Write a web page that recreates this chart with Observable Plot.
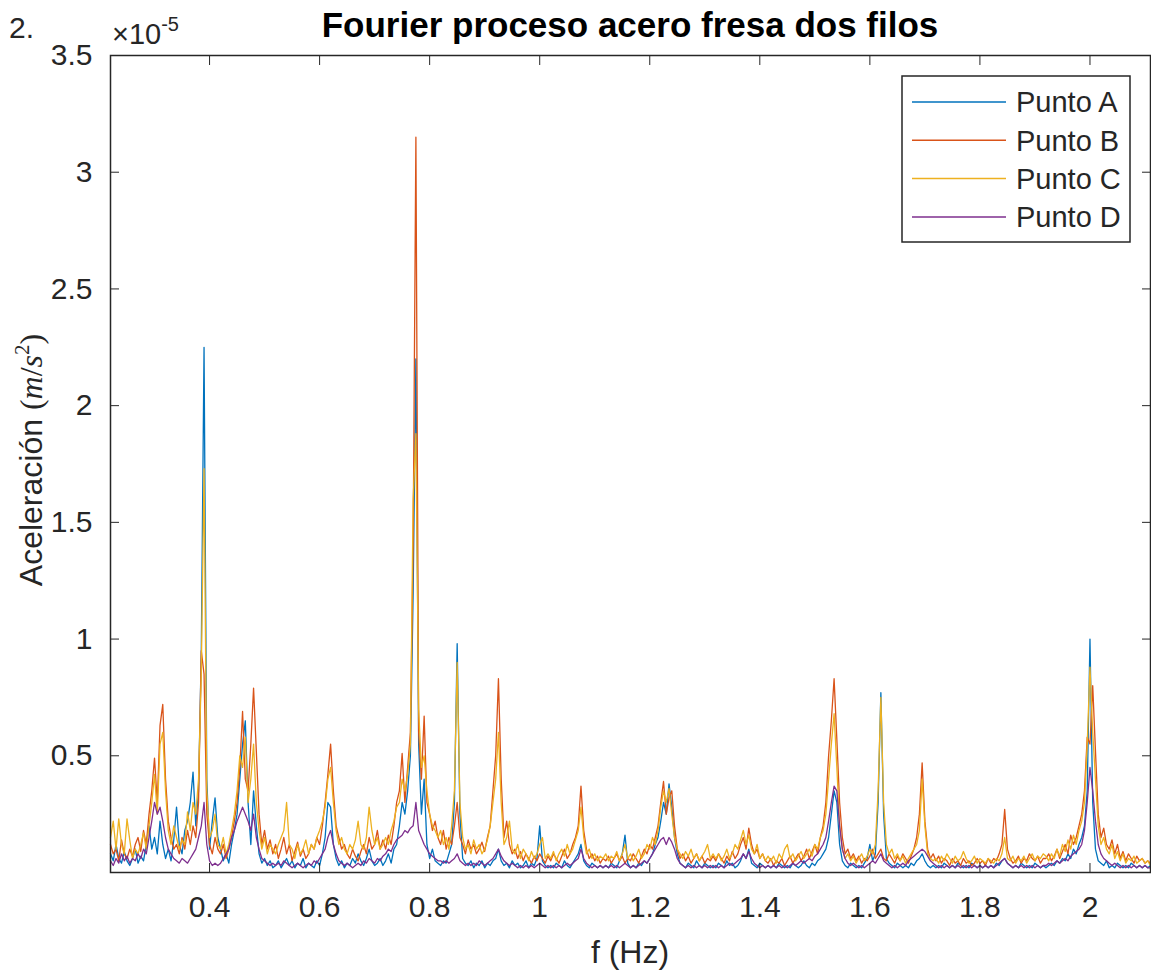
<!DOCTYPE html>
<html><head><meta charset="utf-8">
<script src="https://cdn.jsdelivr.net/npm/d3@7"></script>
<script src="https://cdn.jsdelivr.net/npm/@observablehq/plot@0.6"></script>
<style>body{margin:0;background:#fff}</style>
</head><body><div id="chart"></div>
<script>
const seriesNames = ["Punto A","Punto B","Punto C","Punto D"];
const seriesColors = ["#0072BD","#D95319","#EDB120","#7E2F8E"];
const xTicks = [0.4,0.6,0.8,1,1.2,1.4,1.6,1.8,2];
const yTicks = [0.5,1,1.5,2,2.5,3,3.5];
const titleText = "Fourier proceso acero fresa dos filos";
const xLabel = "f (Hz)";
const panelTag = "2.";

// frequency bins (Hz)
const freq = [
.22,.225,.23,.235,.24,.245,.25,.255,.26,.265,.27,.275,.28,.285,.29,.295,.3,.305,.31,.315,
.32,.325,.33,.335,.34,.345,.35,.355,.36,.365,.37,.375,.38,.385,.39,.395,.4,.405,.41,.415,
.42,.425,.43,.435,.44,.445,.45,.455,.46,.465,.47,.475,.48,.485,.49,.495,.5,.505,.51,.515,
.52,.525,.53,.535,.54,.545,.55,.555,.56,.565,.57,.575,.58,.585,.59,.595,.6,.605,.61,.615,
.62,.625,.63,.635,.64,.645,.65,.655,.66,.665,.67,.675,.68,.685,.69,.695,.7,.705,.71,.715,
.72,.725,.73,.735,.74,.745,.75,.755,.76,.765,.77,.775,.78,.785,.79,.795,.8,.805,.81,.815,
.82,.825,.83,.835,.84,.845,.85,.855,.86,.865,.87,.875,.88,.885,.89,.895,.9,.905,.91,.915,
.92,.925,.93,.935,.94,.945,.95,.955,.96,.965,.97,.975,.98,.985,.99,.995,1,1.005,1.01,1.015,
1.02,1.025,1.03,1.035,1.04,1.045,1.05,1.055,1.06,1.065,1.07,1.075,1.08,1.085,1.09,1.095,1.1,1.105,1.11,1.115,
1.12,1.125,1.13,1.135,1.14,1.145,1.15,1.155,1.16,1.165,1.17,1.175,1.18,1.185,1.19,1.195,1.2,1.205,1.21,1.215,
1.22,1.225,1.23,1.235,1.24,1.245,1.25,1.255,1.26,1.265,1.27,1.275,1.28,1.285,1.29,1.295,1.3,1.305,1.31,1.315,
1.32,1.325,1.33,1.335,1.34,1.345,1.35,1.355,1.36,1.365,1.37,1.375,1.38,1.385,1.39,1.395,1.4,1.405,1.41,1.415,
1.42,1.425,1.43,1.435,1.44,1.445,1.45,1.455,1.46,1.465,1.47,1.475,1.48,1.485,1.49,1.495,1.5,1.505,1.51,1.515,
1.52,1.525,1.53,1.535,1.54,1.545,1.55,1.555,1.56,1.565,1.57,1.575,1.58,1.585,1.59,1.595,1.6,1.605,1.61,1.615,
1.62,1.625,1.63,1.635,1.64,1.645,1.65,1.655,1.66,1.665,1.67,1.675,1.68,1.685,1.69,1.695,1.7,1.705,1.71,1.715,
1.72,1.725,1.73,1.735,1.74,1.745,1.75,1.755,1.76,1.765,1.77,1.775,1.78,1.785,1.79,1.795,1.8,1.805,1.81,1.815,
1.82,1.825,1.83,1.835,1.84,1.845,1.85,1.855,1.86,1.865,1.87,1.875,1.88,1.885,1.89,1.895,1.9,1.905,1.91,1.915,
1.92,1.925,1.93,1.935,1.94,1.945,1.95,1.955,1.96,1.965,1.97,1.975,1.98,1.985,1.99,1.995,2,2.005,2.01,2.015,
2.02,2.025,2.03,2.035,2.04,2.045,2.05,2.055,2.06,2.065,2.07,2.075,2.08,2.085,2.09,2.095,2.1,2.105,2.11
];

// acceleration amplitude, units of 1e-5 m/s^2
const puntoA = [
0.08,0.05,0.12,0.06,0.04,0.09,0.05,0.03,0.06,0.10,0.04,0.07,0.05,0.12,0.20,0.10,0.15,0.08,0.22,0.12,
0.06,0.10,0.05,0.14,0.28,0.12,0.08,0.18,0.22,0.30,0.43,0.20,0.35,0.95,2.25,0.40,0.10,0.22,0.32,0.15,
0.10,0.05,0.08,0.04,0.12,0.18,0.25,0.40,0.55,0.65,0.30,0.12,0.35,0.20,0.08,0.04,0.06,0.03,0.05,0.02,
0.03,0.05,0.02,0.04,0.06,0.03,0.05,0.02,0.04,0.03,0.06,0.02,0.04,0.03,0.02,0.05,0.03,0.08,0.15,0.30,
0.28,0.12,0.06,0.03,0.05,0.02,0.04,0.03,0.06,0.04,0.08,0.05,0.03,0.06,0.10,0.05,0.03,0.04,0.06,0.03,
0.05,0.08,0.04,0.10,0.12,0.20,0.30,0.25,0.35,0.50,1.20,2.20,0.55,0.25,0.40,0.12,0.06,0.10,0.05,0.04,
0.03,0.05,0.04,0.08,0.12,0.30,0.98,0.25,0.06,0.04,0.03,0.05,0.02,0.04,0.03,0.05,0.02,0.04,0.03,0.05,
0.06,0.10,0.05,0.03,0.04,0.02,0.05,0.03,0.04,0.02,0.03,0.05,0.02,0.04,0.03,0.06,0.20,0.05,0.03,0.02,
0.03,0.02,0.04,0.03,0.02,0.05,0.03,0.02,0.04,0.06,0.08,0.12,0.05,0.03,0.02,0.04,0.03,0.02,0.03,0.02,
0.03,0.02,0.04,0.03,0.02,0.05,0.08,0.16,0.04,0.02,0.03,0.02,0.04,0.03,0.05,0.04,0.06,0.08,0.12,0.15,
0.22,0.30,0.25,0.38,0.28,0.15,0.08,0.04,0.03,0.02,0.04,0.03,0.02,0.05,0.03,0.02,0.04,0.03,0.02,0.03,
0.02,0.04,0.03,0.02,0.05,0.03,0.04,0.02,0.03,0.05,0.08,0.06,0.10,0.04,0.03,0.02,0.04,0.03,0.02,0.03,
0.02,0.03,0.02,0.04,0.03,0.02,0.03,0.02,0.04,0.03,0.02,0.03,0.05,0.03,0.02,0.04,0.03,0.05,0.06,0.08,
0.10,0.15,0.25,0.35,0.30,0.12,0.05,0.03,0.02,0.04,0.03,0.02,0.03,0.02,0.04,0.06,0.12,0.05,0.08,0.30,
0.77,0.25,0.06,0.04,0.03,0.02,0.04,0.03,0.02,0.03,0.02,0.04,0.03,0.05,0.06,0.08,0.05,0.03,0.02,0.03,
0.02,0.03,0.02,0.04,0.03,0.02,0.03,0.02,0.04,0.03,0.02,0.03,0.02,0.04,0.03,0.02,0.03,0.02,0.03,0.02,
0.03,0.02,0.04,0.03,0.05,0.06,0.04,0.03,0.02,0.03,0.02,0.04,0.03,0.02,0.03,0.02,0.04,0.03,0.02,0.03,
0.02,0.03,0.04,0.03,0.05,0.04,0.06,0.05,0.08,0.06,0.10,0.08,0.12,0.15,0.20,0.35,1.00,0.30,0.10,0.05,
0.04,0.03,0.05,0.02,0.03,0.02,0.04,0.03,0.02,0.03,0.02,0.04,0.03,0.02,0.03,0.02,0.03,0.02,0.03
];
const puntoB = [
0.12,0.08,0.10,0.05,0.14,0.08,0.06,0.10,0.07,0.12,0.15,0.09,0.18,0.12,0.25,0.35,0.49,0.30,0.63,0.72,
0.40,0.22,0.15,0.10,0.12,0.08,0.15,0.10,0.18,0.12,0.20,0.15,0.30,0.95,0.85,0.25,0.12,0.08,0.15,0.10,
0.08,0.12,0.06,0.10,0.15,0.22,0.30,0.45,0.69,0.40,0.35,0.55,0.79,0.52,0.25,0.12,0.18,0.10,0.14,0.08,
0.12,0.06,0.10,0.15,0.08,0.12,0.05,0.09,0.13,0.07,0.10,0.06,0.08,0.12,0.10,0.15,0.12,0.20,0.30,0.42,
0.55,0.35,0.20,0.15,0.10,0.12,0.08,0.06,0.10,0.07,0.05,0.09,0.12,0.08,0.15,0.10,0.12,0.18,0.10,0.14,
0.10,0.16,0.12,0.20,0.30,0.35,0.51,0.30,0.45,0.60,1.40,3.15,0.60,0.40,0.67,0.30,0.25,0.18,0.22,0.15,
0.12,0.18,0.10,0.15,0.12,0.20,0.30,0.15,0.12,0.08,0.14,0.10,0.12,0.08,0.10,0.13,0.09,0.15,0.20,0.35,
0.50,0.83,0.40,0.15,0.22,0.12,0.08,0.10,0.06,0.09,0.05,0.08,0.06,0.04,0.07,0.05,0.08,0.06,0.04,0.07,
0.05,0.08,0.06,0.04,0.07,0.10,0.06,0.08,0.12,0.15,0.20,0.37,0.18,0.10,0.06,0.08,0.05,0.07,0.04,0.06,
0.05,0.07,0.04,0.06,0.08,0.05,0.07,0.04,0.06,0.05,0.08,0.06,0.04,0.07,0.10,0.08,0.12,0.10,0.15,0.20,
0.30,0.39,0.25,0.32,0.35,0.20,0.10,0.06,0.08,0.05,0.07,0.04,0.06,0.08,0.05,0.07,0.04,0.06,0.05,0.07,
0.05,0.08,0.06,0.04,0.07,0.05,0.09,0.06,0.08,0.12,0.15,0.10,0.19,0.12,0.08,0.10,0.06,0.08,0.05,0.04,
0.06,0.03,0.05,0.04,0.06,0.03,0.05,0.07,0.04,0.06,0.08,0.05,0.07,0.10,0.06,0.09,0.12,0.08,0.15,0.20,
0.30,0.50,0.65,0.83,0.57,0.30,0.15,0.08,0.10,0.06,0.08,0.05,0.07,0.04,0.06,0.05,0.07,0.10,0.06,0.08,
0.10,0.06,0.05,0.08,0.06,0.04,0.07,0.05,0.08,0.06,0.04,0.07,0.10,0.15,0.25,0.47,0.22,0.10,0.06,0.08,
0.05,0.07,0.04,0.06,0.05,0.03,0.06,0.04,0.05,0.03,0.06,0.04,0.05,0.03,0.04,0.06,0.04,0.05,0.03,0.06,
0.04,0.06,0.05,0.08,0.12,0.27,0.10,0.06,0.04,0.05,0.07,0.04,0.06,0.05,0.08,0.06,0.05,0.07,0.04,0.06,
0.06,0.08,0.05,0.07,0.10,0.06,0.09,0.12,0.08,0.16,0.12,0.15,0.20,0.25,0.35,0.58,0.55,0.80,0.52,0.25,
0.15,0.19,0.12,0.10,0.14,0.08,0.12,0.06,0.09,0.05,0.08,0.06,0.04,0.07,0.05,0.06,0.04,0.05,0.04
];
const puntoC = [
0.15,0.22,0.10,0.23,0.12,0.08,0.23,0.14,0.06,0.10,0.08,0.12,0.17,0.10,0.20,0.30,0.42,0.25,0.55,0.60,
0.35,0.18,0.12,0.20,0.15,0.10,0.14,0.12,0.26,0.18,0.30,0.25,0.40,0.85,1.73,0.35,0.15,0.18,0.25,0.12,
0.10,0.15,0.08,0.12,0.18,0.25,0.35,0.50,0.45,0.58,0.30,0.40,0.55,0.30,0.18,0.10,0.15,0.08,0.12,0.10,
0.08,0.12,0.15,0.18,0.30,0.12,0.10,0.06,0.12,0.08,0.10,0.14,0.08,0.12,0.10,0.15,0.18,0.22,0.28,0.40,
0.45,0.30,0.18,0.12,0.15,0.10,0.08,0.12,0.10,0.14,0.22,0.12,0.10,0.15,0.28,0.18,0.12,0.15,0.10,0.12,
0.15,0.12,0.18,0.22,0.28,0.30,0.40,0.35,0.42,0.55,1.60,1.88,0.70,0.45,0.50,0.35,0.25,0.20,0.18,0.15,
0.18,0.12,0.15,0.10,0.20,0.35,0.90,0.30,0.15,0.10,0.12,0.08,0.14,0.10,0.12,0.08,0.10,0.14,0.20,0.30,
0.40,0.60,0.30,0.12,0.15,0.22,0.10,0.08,0.12,0.06,0.10,0.08,0.05,0.09,0.06,0.08,0.12,0.15,0.06,0.08,
0.06,0.09,0.05,0.08,0.10,0.07,0.12,0.08,0.10,0.14,0.18,0.28,0.15,0.08,0.10,0.06,0.08,0.05,0.07,0.06,
0.08,0.05,0.07,0.06,0.09,0.05,0.08,0.12,0.06,0.08,0.05,0.07,0.10,0.06,0.08,0.12,0.10,0.15,0.12,0.18,
0.28,0.35,0.30,0.36,0.25,0.15,0.10,0.08,0.06,0.09,0.07,0.10,0.06,0.08,0.05,0.07,0.09,0.12,0.06,0.08,
0.06,0.08,0.05,0.07,0.10,0.06,0.08,0.12,0.10,0.14,0.18,0.12,0.16,0.10,0.08,0.12,0.06,0.08,0.05,0.07,
0.05,0.07,0.04,0.08,0.06,0.10,0.12,0.06,0.08,0.05,0.07,0.09,0.06,0.08,0.10,0.07,0.12,0.10,0.15,0.18,
0.25,0.40,0.55,0.68,0.45,0.20,0.10,0.06,0.08,0.05,0.07,0.04,0.06,0.08,0.05,0.07,0.10,0.08,0.12,0.35,
0.75,0.30,0.12,0.08,0.10,0.06,0.08,0.05,0.07,0.04,0.06,0.08,0.10,0.12,0.18,0.40,0.20,0.08,0.06,0.05,
0.06,0.04,0.07,0.05,0.08,0.06,0.04,0.07,0.05,0.06,0.09,0.06,0.04,0.05,0.07,0.04,0.06,0.05,0.04,0.06,
0.05,0.04,0.06,0.05,0.08,0.15,0.06,0.05,0.07,0.04,0.06,0.05,0.07,0.04,0.06,0.08,0.05,0.07,0.06,0.08,
0.07,0.05,0.08,0.06,0.10,0.07,0.12,0.09,0.14,0.10,0.16,0.12,0.18,0.22,0.30,0.55,0.88,0.60,0.40,0.20,
0.12,0.15,0.10,0.08,0.12,0.06,0.09,0.05,0.08,0.04,0.06,0.05,0.07,0.04,0.05,0.06,0.04,0.05,0.03
];
const puntoD = [
0.05,0.03,0.06,0.04,0.08,0.05,0.07,0.04,0.06,0.05,0.08,0.06,0.10,0.08,0.15,0.22,0.30,0.25,0.28,0.22,
0.15,0.10,0.08,0.06,0.05,0.04,0.06,0.05,0.04,0.06,0.08,0.10,0.15,0.20,0.30,0.12,0.05,0.03,0.04,0.03,
0.04,0.06,0.08,0.10,0.15,0.18,0.22,0.25,0.28,0.25,0.22,0.18,0.25,0.15,0.10,0.06,0.05,0.04,0.03,0.04,
0.03,0.04,0.03,0.05,0.04,0.03,0.02,0.03,0.04,0.03,0.02,0.03,0.04,0.03,0.05,0.04,0.06,0.08,0.10,0.15,
0.18,0.12,0.08,0.05,0.04,0.03,0.04,0.03,0.02,0.03,0.04,0.03,0.05,0.04,0.06,0.05,0.04,0.06,0.05,0.07,
0.08,0.10,0.09,0.12,0.14,0.15,0.16,0.18,0.17,0.19,0.20,0.30,0.18,0.15,0.12,0.10,0.08,0.07,0.06,0.05,
0.05,0.04,0.05,0.04,0.05,0.06,0.08,0.05,0.04,0.03,0.04,0.03,0.04,0.03,0.05,0.04,0.03,0.04,0.05,0.06,
0.08,0.10,0.07,0.05,0.04,0.03,0.04,0.03,0.02,0.03,0.02,0.03,0.02,0.03,0.02,0.03,0.04,0.03,0.02,0.03,
0.02,0.03,0.02,0.03,0.02,0.03,0.04,0.03,0.04,0.05,0.06,0.10,0.06,0.04,0.03,0.02,0.03,0.02,0.03,0.02,
0.03,0.02,0.03,0.02,0.03,0.02,0.03,0.04,0.03,0.02,0.03,0.02,0.03,0.04,0.05,0.04,0.06,0.08,0.10,0.12,
0.14,0.15,0.12,0.15,0.13,0.10,0.06,0.04,0.03,0.02,0.03,0.02,0.03,0.02,0.03,0.02,0.03,0.02,0.03,0.02,
0.03,0.02,0.03,0.02,0.03,0.04,0.03,0.04,0.05,0.06,0.08,0.06,0.09,0.06,0.04,0.03,0.02,0.03,0.02,0.03,
0.02,0.03,0.02,0.03,0.02,0.03,0.02,0.03,0.04,0.03,0.04,0.05,0.04,0.05,0.06,0.05,0.07,0.08,0.10,0.12,
0.15,0.22,0.30,0.37,0.35,0.20,0.10,0.06,0.04,0.03,0.04,0.03,0.02,0.03,0.02,0.03,0.04,0.05,0.04,0.06,
0.08,0.05,0.04,0.03,0.02,0.03,0.02,0.03,0.04,0.03,0.05,0.06,0.07,0.08,0.09,0.10,0.09,0.07,0.05,0.04,
0.03,0.02,0.03,0.02,0.03,0.02,0.03,0.02,0.03,0.02,0.03,0.02,0.03,0.02,0.03,0.02,0.03,0.02,0.03,0.02,
0.03,0.02,0.03,0.04,0.05,0.06,0.04,0.03,0.02,0.03,0.02,0.03,0.02,0.03,0.02,0.03,0.02,0.03,0.02,0.03,
0.03,0.04,0.03,0.04,0.05,0.04,0.05,0.06,0.05,0.07,0.08,0.09,0.10,0.12,0.18,0.30,0.45,0.35,0.22,0.12,
0.08,0.06,0.05,0.04,0.03,0.04,0.03,0.02,0.03,0.02,0.03,0.02,0.03,0.02,0.03,0.02,0.03,0.02,0.02
];

const seriesValues = [puntoA, puntoB, puntoC, puntoD];
const table = [];
seriesValues.forEach((vals, k) => vals.forEach((v, i) => table.push({f: freq[i], v, s: seriesNames[k]})));

const ink = "#262626";
const W = 1151, H = 973;
const svg = Plot.plot({
  width: W, height: H,
  marginLeft: 110, marginRight: 1, marginTop: 55, marginBottom: 101,
  style: {fontFamily: "'Liberation Sans', Arial, sans-serif", fontSize: "30px", color: ink, background: "#fff", overflow: "visible"},
  x: {domain: [0.22, 2.11]},
  y: {domain: [0, 3.5]},
  color: {domain: seriesNames, range: seriesColors},
  marks: [
    Plot.line(table, {x: "f", y: "v", z: "s", stroke: "s", strokeWidth: 1.3}),
    Plot.frame({stroke: ink, strokeWidth: 1.5}),
    Plot.axisX({anchor: "bottom", ticks: xTicks, tickSize: -9, tickPadding: 32, tickFormat: d => String(d), label: null, stroke: ink, fill: ink}),
    Plot.axisX({anchor: "top", ticks: xTicks, tickSize: -9, tickFormat: () => "", label: null, stroke: ink}),
    Plot.axisY({anchor: "left", ticks: yTicks, tickSize: -9, tickPadding: 27, tickFormat: d => String(d), label: null, stroke: ink, fill: ink}),
    Plot.axisY({anchor: "right", ticks: yTicks, tickSize: -9, tickFormat: () => "", label: null, stroke: ink})
  ]
});
document.getElementById("chart").appendChild(svg);

const s = d3.select(svg);
const ff = "'Liberation Sans', Arial, sans-serif";
s.append("text").attr("x", 9).attr("y", 38).attr("text-anchor", "start").attr("font-family", ff).attr("font-size", 30).attr("fill", ink).text(panelTag);
const ex = s.append("text").attr("x", 112).attr("y", 44).attr("text-anchor", "start").attr("font-family", ff).attr("font-size", 29).attr("fill", ink);
ex.append("tspan").text("\u00d710");
ex.append("tspan").attr("dy", -13).attr("font-size", 20).text("-5");
s.append("text").attr("x", 630).attr("y", 37).attr("text-anchor", "middle").attr("font-family", ff).attr("font-size", 35).attr("font-weight", "bold").attr("fill", "#000").text(titleText);
s.append("text").attr("x", 630).attr("y", 963).attr("text-anchor", "middle").attr("font-family", ff).attr("font-size", 32).attr("fill", ink).text(xLabel);
const yl = s.append("text").attr("transform", "translate(42,460) rotate(-90)").attr("text-anchor", "middle").attr("font-family", ff).attr("font-size", 32).attr("fill", ink);
yl.append("tspan").text("Aceleración ");
const serif = "'Liberation Serif', 'DejaVu Serif', serif";
yl.append("tspan").attr("font-family", serif).text("(");
yl.append("tspan").attr("font-family", serif).attr("font-style", "italic").text("m");
yl.append("tspan").attr("font-family", serif).text("/");
yl.append("tspan").attr("font-family", serif).attr("font-style", "italic").text("s");
yl.append("tspan").attr("font-family", serif).attr("font-size", 21).attr("dy", -13).text("2");
yl.append("tspan").attr("font-family", serif).attr("dy", 13).text(")");

// legend
const lg = s.append("g");
lg.append("rect").attr("x", 902).attr("y", 76).attr("width", 228).attr("height", 166).attr("fill", "#fff").attr("stroke", ink).attr("stroke-width", 1.5);
seriesNames.forEach((name, k) => {
  const yy = 102 + k * 38.3;
  lg.append("line").attr("x1", 912).attr("x2", 1006).attr("y1", yy).attr("y2", yy).attr("stroke", seriesColors[k]).attr("stroke-width", 1.5);
  lg.append("text").attr("x", 1016).attr("y", yy).attr("dy", "0.36em").attr("text-anchor", "start").attr("font-family", ff).attr("font-size", 29).attr("fill", ink).text(name);
});
</script>
</body></html>
